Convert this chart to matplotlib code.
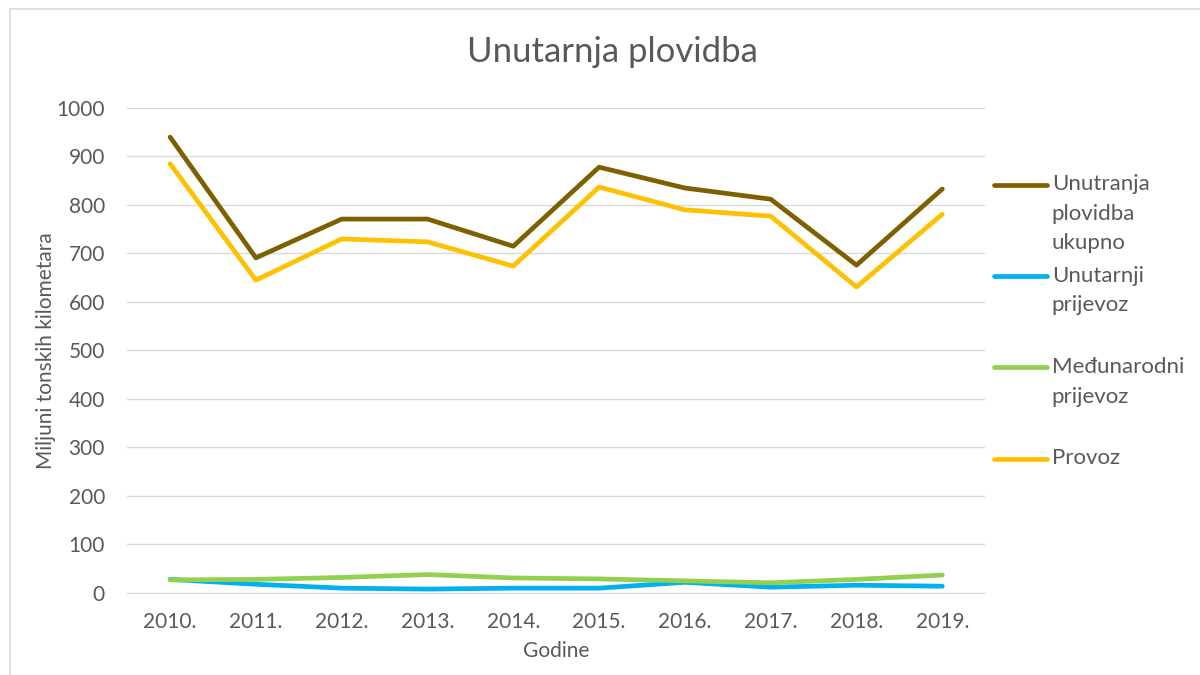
import matplotlib
matplotlib.use('Agg')
import matplotlib.pyplot as plt
from matplotlib.patches import Rectangle
from matplotlib.legend_handler import HandlerLine2D

years = ["2010.", "2011.", "2012.", "2013.", "2014.", "2015.", "2016.", "2017.", "2018.", "2019."]
ukupno = [940, 691, 771, 771, 715, 878, 835, 812, 676, 833]
unutarnji = [28, 18, 10, 8, 10, 10, 22, 12, 16, 14]
medunarodni = [27, 28, 32, 38, 31, 29, 25, 21, 28, 37]
provoz = [885, 645, 730, 724, 674, 837, 790, 777, 631, 781]

plt.rcParams['font.family'] = ['Lato', 'DejaVu Sans']
txt = '#595959'
LS = 1.6


class TopLine(HandlerLine2D):
    # put the legend line next to the first text line (like Excel)
    def create_artists(self, legend, orig_handle, xdescent, ydescent, width, height, fontsize, trans):
        arts = super().create_artists(legend, orig_handle, xdescent, ydescent, width, height, fontsize, trans)
        for a in arts:
            a.set_ydata([y + fontsize * 1.32 for y in a.get_ydata()])
        return arts


fig = plt.figure(figsize=(12, 6.75), dpi=100)
ax = fig.add_axes([0.106, 0.1215, 0.715, 0.7185])

x = range(len(years))
ax.plot(x, ukupno, color='#7f6000', lw=3.4, label='Unutranja\nplovidba\nukupno', solid_capstyle='round')
ax.plot(x, unutarnji, color='#00b0f0', lw=3.4, label='Unutarnji\nprijevoz\n ', solid_capstyle='round')
ax.plot(x, medunarodni, color='#92d050', lw=3.4, label='Međunarodni\nprijevoz\n ', solid_capstyle='round')
ax.plot(x, provoz, color='#ffc000', lw=3.4, label='Provoz\n \n ', solid_capstyle='round')

ax.set_xlim(-0.5, len(years) - 0.5)
ax.set_ylim(0, 1000)
ax.set_yticks(range(0, 1001, 100))
ax.set_xticks(list(x))
ax.set_xticklabels(years)
ax.grid(axis='y', color='#d9d9d9', lw=1)
ax.set_axisbelow(True)
for s in ['top', 'right', 'left']:
    ax.spines[s].set_visible(False)
ax.spines['bottom'].set_color('#d9d9d9')
ax.tick_params(axis='y', length=0, labelsize=15, colors=txt, pad=16)
ax.tick_params(axis='x', length=0, labelsize=15, colors=txt, pad=14)

fig.text(0.51, 1 - 52 / 675, 'Unutarnja plovidba', fontsize=25, color=txt, ha='center', va='center')
ax.set_ylabel('Miljuni tonskih kilometara', fontsize=15, color=txt, labelpad=0)
ax.set_xlabel('Godine', fontsize=15, color=txt, labelpad=6)

leg = ax.legend(loc='upper left', bbox_to_anchor=(1.0, 0.882), frameon=False,
                fontsize=16, labelcolor=txt, handlelength=2.4, handletextpad=0.2,
                labelspacing=0.55, borderaxespad=0.0, handler_map={plt.Line2D: TopLine()})
for t in leg.get_texts():
    t.set_linespacing(LS)

fig.patches.append(Rectangle((0.008, -0.01), 1.1, 0.996, transform=fig.transFigure,
                             fill=False, edgecolor='#d9d9d9', lw=1.2))

fig.savefig('out.png', dpi=100)
